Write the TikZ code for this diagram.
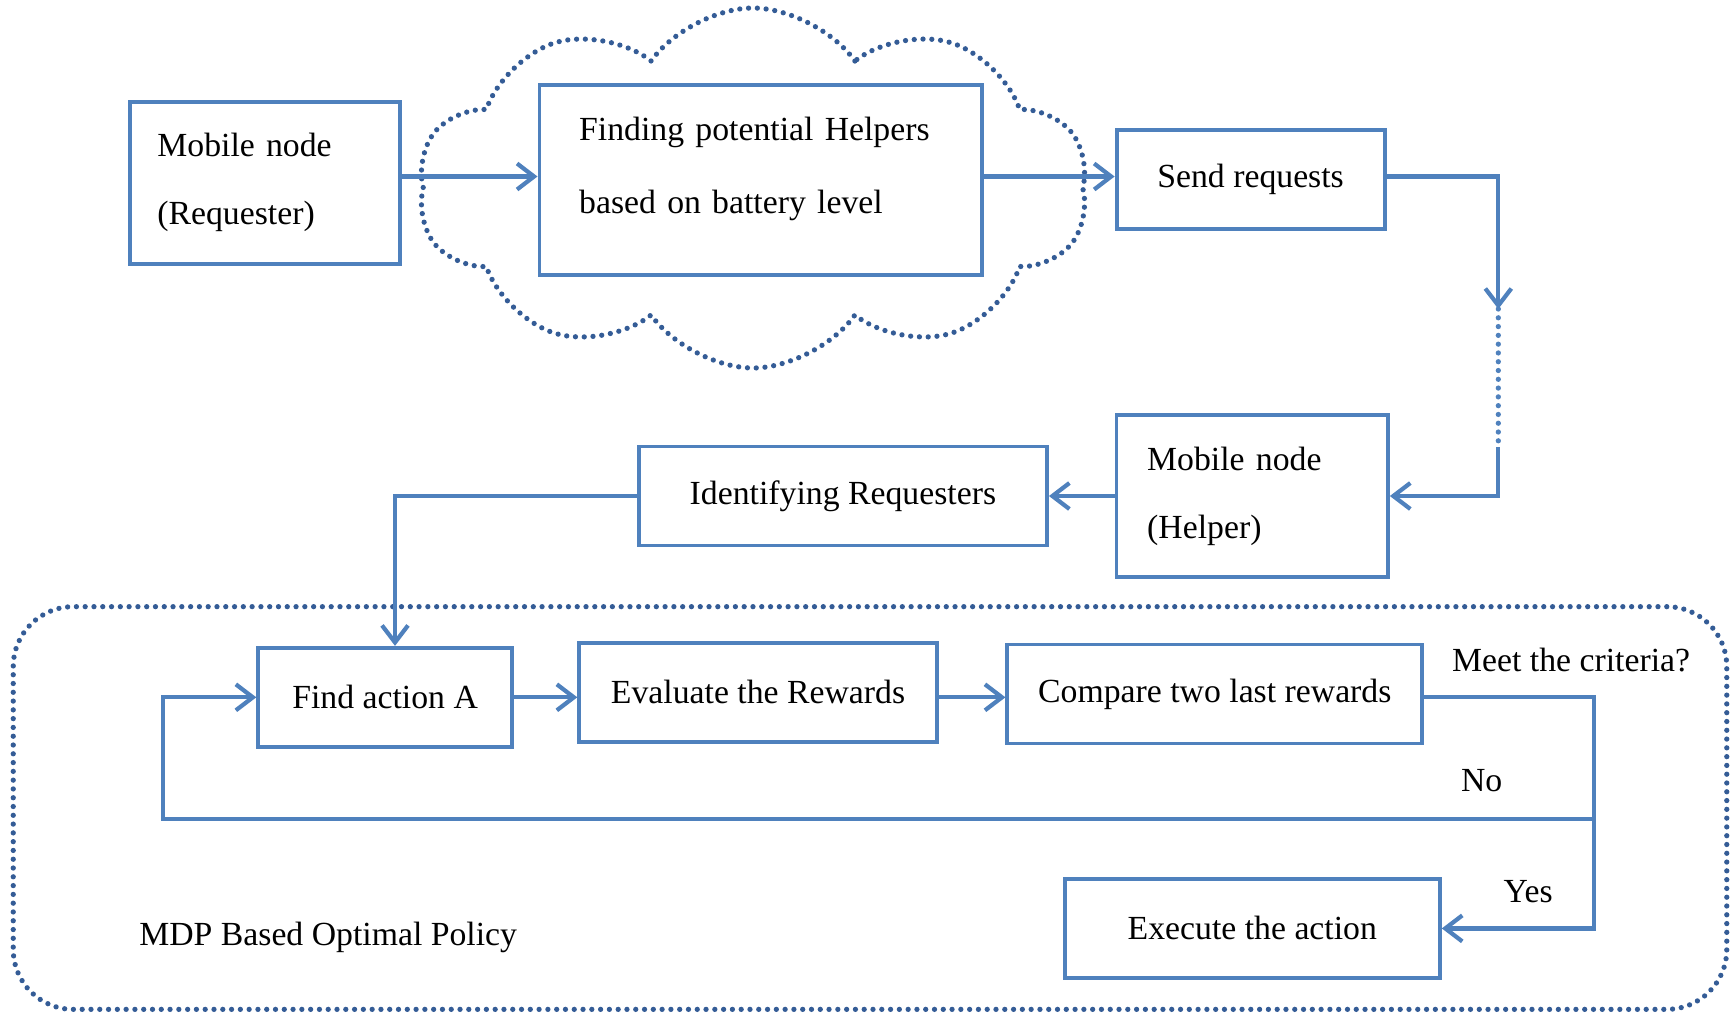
\documentclass[tikz,border=0pt]{standalone}
\usepackage{fontspec}
\setmainfont{Liberation Serif}
\usepackage{tikz}
\usetikzlibrary{positioning,arrows}
\usetikzlibrary{shapes}
\usetikzlibrary{arrows.meta}
\usepackage{xcolor}
\definecolor{boxblue}{RGB}{79,129,189}
\definecolor{dotblue}{RGB}{52,92,150}

\begin{document}
\begin{tikzpicture}
  	\useasboundingbox (0,0) rectangle (17.30,-10.13);
  	\tikzstyle{every node}=[font=\fontsize{9.6}{19.4}\selectfont, text=black]
  	\tikzstyle{box}=[draw=boxblue, line width=1.1pt, rectangle, inner sep=0pt, minimum height=0.99cm]
  	\tikzstyle{dots}=[draw=dotblue, line width=1.5pt, line cap=round, dash pattern=on 0pt off 2.5pt]
  	\tikzstyle{flow}=[draw=boxblue, line width=1.2pt]
  	\tikzstyle{arr}=[flow, -{Straight Barb[length=1.7mm,width=2.6mm]}]
  	% cloud and policy region
  	\draw (7.53,-1.88) node (cloud) [cloud, cloud puffs=10, cloud puff arc=110, aspect=1.9, dots, minimum width=6.7cm, minimum height=3.6cm]{};
  	\draw (8.70,-8.08) node (mdp) [dots, rectangle, rounded corners=0.6cm, minimum width=17.135cm, minimum height=4.027cm]{};
  	% boxes
  	\draw (2.654,-1.826) node (requester) [box, minimum width=2.70cm, minimum height=1.62cm, align=left, text width=2.16cm]{Mobile node\\(Requester)};
  	\draw (7.607,-1.798) node (finding) [box, minimum width=4.425cm, minimum height=1.897cm, align=left, text width=3.63cm, font=\fontsize{9.6}{20.6}\selectfont]{Finding potential Helpers\\based on battery level\rule[-0.29cm]{0pt}{0pt}};
  	\draw (12.506,-1.793) node (send) [box, minimum width=2.681cm]{Send requests};
  	\draw (12.522,-4.96) node (helper) [box, minimum width=2.714cm, minimum height=1.622cm, align=left, text width=2.10cm]{Mobile node\\(Helper)};
  	\draw (8.429,-4.96) node (identify) [box, minimum width=4.082cm]{Identifying Requesters};
  	\draw (3.851,-6.973) node (findaction) [box, minimum width=2.537cm]{Find action A};
  	\draw (7.580,-6.923) node (evaluate) [box, minimum width=3.575cm]{Evaluate the Rewards};
  	\draw (12.148,-6.940) node (compare) [box, minimum width=4.149cm]{Compare two last rewards};
  	\draw (12.523,-9.284) node (execute) [box, minimum width=3.751cm]{Execute the action};
  	% labels
  	\draw (15.711,-6.598) node (criteria) {Meet the criteria?};
  	\draw (14.817,-7.811) node (no) {No};
  	\draw (15.281,-8.915) node (yes) {Yes};
  	\draw (3.282,-9.378) node (policy) {MDP Based Optimal Policy};
  	% turning points
  	\coordinate (sendturn) at (14.983,-1.765);
  	\coordinate (gapstart) at (14.983,-3.09);
  	\coordinate (gapend) at (14.983,-4.47);
  	\coordinate (identturn) at (3.950,-4.96);
  	\coordinate (decide) at (15.943,-6.973);
  	\coordinate (nobranch) at (15.943,-8.187);
  	\coordinate (loopleft) at (1.633,-8.187);
  	% connectors
  	\draw [arr] (requester.east |- sendturn) to (finding.west |- sendturn);
  	\draw [arr] (finding.east |- sendturn) to (send.west |- sendturn);
  	\draw [arr] (send.east |- sendturn) -- (sendturn) -- (gapstart);
  	\draw [dots, draw=boxblue] (gapstart) -- (gapend);
  	\draw [arr] (gapend) |- (helper.east);
  	\draw [arr] (helper.west) to (identify.east);
  	\draw [arr] (identify.west) -| (identturn |- findaction.north);
  	\draw [arr] (findaction.east) to (evaluate.west |- findaction.east);
  	\draw [arr] (evaluate.east |- findaction.east) to (compare.west |- findaction.east);
  	\draw [arr] (compare.east |- decide) -- (decide) |- (execute.east);
  	\draw [arr] (nobranch) -- (loopleft) |- (findaction.west);
\end{tikzpicture}
\end{document}
